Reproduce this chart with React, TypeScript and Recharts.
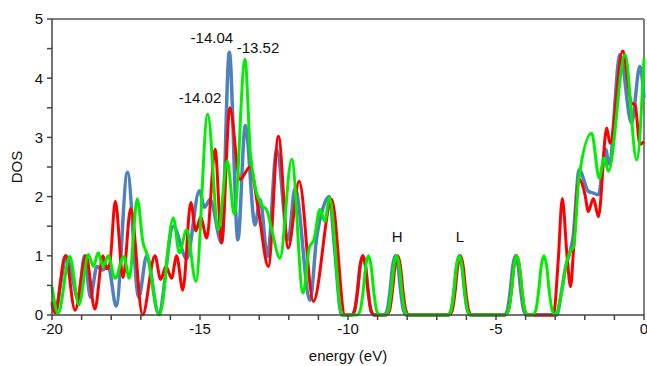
import React from "react";
import {
  LineChart,
  Line,
  XAxis,
  YAxis,
  ReferenceLine,
  ReferenceDot,
} from "recharts";

// energy (eV), DOS pairs
const blueSeries: [number, number][] = [
  [-20, 0.18], [-19.88, 0.04], [-19.7, 0.55], [-19.52, 1.0], [-19.3, 0.6],
  [-19.12, 0.26], [-18.9, 1.0], [-18.7, 0.3], [-18.48, 0.82], [-18.3, 0.76],
  [-18.1, 0.82], [-17.83, 0.15], [-17.45, 2.41], [-17.07, 0.3], [-16.8, 1.0],
  [-16.4, 0.02], [-15.9, 1.5], [-15.45, 0.95], [-15.02, 2.1], [-14.85, 1.82],
  [-14.66, 1.95], [-14.27, 1.22], [-14.01, 4.44], [-13.72, 1.27], [-13.47, 3.2],
  [-13.14, 1.52], [-12.97, 1.95], [-12.72, 0.99], [-12.41, 2.79], [-12.02, 1.27],
  [-11.79, 2.14], [-11.28, 0.25], [-11.06, 1.3], [-10.85, 1.8], [-10.63, 2.0],
  [-10.45, 1.1], [-10.22, 0], [-9.88, 0], [-9.78, 0.07], [-9.68, 0.4],
  [-9.59, 0.83], [-9.5, 1], [-9.41, 0.83], [-9.32, 0.4], [-9.22, 0.07],
  [-9.12, 0], [-8.78, 0], [-8.68, 0.07], [-8.58, 0.4], [-8.49, 0.83],
  [-8.4, 1], [-8.31, 0.83], [-8.22, 0.4], [-8.12, 0.07], [-8.02, 0],
  [-6.62, 0], [-6.52, 0.07], [-6.42, 0.4], [-6.33, 0.83], [-6.24, 1],
  [-6.15, 0.83], [-6.06, 0.4], [-5.96, 0.07], [-5.86, 0], [-4.72, 0],
  [-4.62, 0.07], [-4.52, 0.4], [-4.43, 0.83], [-4.34, 1], [-4.25, 0.83],
  [-4.16, 0.4], [-4.06, 0.07], [-3.96, 0], [-2.95, 0], [-2.8, 0.35],
  [-2.65, 0.8], [-2.5, 1.07], [-2.4, 1.3], [-2.19, 2.45], [-1.88, 2.09],
  [-1.71, 2.06], [-1.54, 2.03], [-1.3, 2.8], [-1.18, 2.55], [-0.81, 4.4],
  [-0.42, 3.24], [-0.14, 4.2], [0, 3.67],
];

const redSeries: [number, number][] = [
  [-20, 0.22], [-19.9, 0.04], [-19.55, 1.0], [-19.22, 0.08], [-18.85, 1.0],
  [-18.55, 0.1], [-18.28, 1.0], [-18.15, 0.78], [-18.05, 0.86], [-17.86, 1.92],
  [-17.6, 0.63], [-17.34, 1.8], [-16.94, 0], [-16.52, 1.0], [-16.33, 0.6],
  [-16.15, 0.82], [-15.96, 0.62], [-15.79, 1.0], [-15.58, 0.42], [-15.31, 1.9],
  [-15.14, 1.42], [-14.98, 1.65], [-14.77, 1.3], [-14.49, 2.8], [-14.27, 1.22],
  [-13.99, 3.5], [-13.65, 2.29], [-13.31, 2.5], [-13.03, 1.78], [-12.69, 0.82],
  [-12.35, 3.02], [-12.02, 1.13], [-11.65, 2.26], [-11.17, 0.23], [-10.55, 1.95],
  [-10.1, 0], [-9.88, 0], [-9.78, 0.07], [-9.68, 0.4], [-9.59, 0.83],
  [-9.5, 1], [-9.41, 0.83], [-9.32, 0.4], [-9.22, 0.07], [-9.12, 0],
  [-8.7, 0], [-8.6, 0.07], [-8.5, 0.4], [-8.41, 0.83], [-8.32, 1],
  [-8.23, 0.83], [-8.14, 0.4], [-8.04, 0.07], [-7.94, 0], [-6.58, 0],
  [-6.48, 0.07], [-6.38, 0.4], [-6.29, 0.83], [-6.2, 1], [-6.11, 0.83],
  [-6.02, 0.4], [-5.92, 0.07], [-5.82, 0], [-4.68, 0], [-4.58, 0.07],
  [-4.48, 0.4], [-4.39, 0.83], [-4.3, 1], [-4.21, 0.83], [-4.12, 0.4],
  [-4.02, 0.07], [-3.92, 0], [-3.06, 0], [-2.9, 0.9], [-2.76, 1.97],
  [-2.6, 1.0], [-2.48, 0.48], [-2.38, 1.1], [-2.2, 2.3], [-2.0, 2.05],
  [-1.88, 1.75], [-1.71, 1.97], [-1.54, 1.66], [-1.26, 3.16], [-1.15, 2.9],
  [-0.72, 4.46], [-0.42, 3.58], [-0.3, 3.55], [-0.14, 2.88], [0, 2.93],
];

const greenSeries: [number, number][] = [
  [-20, 0.48], [-19.79, 0.03], [-19.4, 0.99], [-19.09, 0.17], [-18.77, 1.02],
  [-18.6, 0.82], [-18.44, 1.05], [-18.27, 0.82], [-18.1, 1.0], [-17.87, 0.62],
  [-17.57, 0.99], [-17.39, 0.62], [-17.12, 1.96], [-16.92, 1.21], [-16.8, 1.05],
  [-16.37, 0], [-15.9, 1.64], [-15.7, 1.05], [-15.45, 1.44], [-15.14, 0.57],
  [-14.74, 3.39], [-14.38, 1.44], [-14.08, 2.6], [-13.84, 1.7], [-13.48, 4.32],
  [-13.3, 2.75], [-13.15, 2.2], [-12.9, 1.85], [-12.75, 1.78], [-12.55, 1.38],
  [-12.3, 0.96], [-11.9, 2.63], [-11.52, 0.37], [-11.3, 1.15], [-11.15, 1.27],
  [-10.95, 1.78], [-10.78, 1.58], [-10.63, 1.98], [-10.2, 0], [-9.69, 0],
  [-9.59, 0.07], [-9.49, 0.4], [-9.4, 0.83], [-9.31, 1], [-9.22, 0.83],
  [-9.13, 0.4], [-9.03, 0.07], [-8.93, 0], [-8.74, 0], [-8.64, 0.07],
  [-8.54, 0.4], [-8.45, 0.83], [-8.36, 1], [-8.27, 0.83], [-8.18, 0.4],
  [-8.08, 0.07], [-7.98, 0], [-6.62, 0], [-6.52, 0.07], [-6.42, 0.4],
  [-6.33, 0.83], [-6.24, 1], [-6.15, 0.83], [-6.06, 0.4], [-5.96, 0.07],
  [-5.86, 0], [-4.68, 0], [-4.58, 0.07], [-4.48, 0.4], [-4.39, 0.83],
  [-4.3, 1], [-4.21, 0.83], [-4.12, 0.4], [-4.02, 0.07], [-3.92, 0],
  [-3.76, 0], [-3.66, 0.07], [-3.56, 0.4], [-3.47, 0.83], [-3.38, 1],
  [-3.29, 0.83], [-3.2, 0.4], [-3.1, 0.07], [-3.0, 0], [-2.95, 0.02],
  [-2.8, 0.35], [-2.65, 0.8], [-2.5, 1.07], [-2.38, 1.15], [-2.2, 2.3],
  [-1.77, 3.07], [-1.51, 2.31], [-1.35, 2.65], [-1.2, 2.43], [-0.64, 4.4],
  [-0.25, 2.62], [0, 4.34],
];

const xTicks = [-20, -19, -18, -17, -16, -15, -14, -13, -12, -11, -10, -9, -8, -7, -6, -5, -4, -3, -2, -1, 0];
const yTicks = [0, 0.5, 1, 1.5, 2, 2.5, 3, 3.5, 4, 4.5, 5];

// peak labels: text, energy, DOS position of the label centre
const annotations: [string, number, number][] = [
  ["-14.04", -14.6, 4.68],
  ["-13.52", -13.04, 4.52],
  ["-14.02", -15.0, 3.67],
  ["H", -8.34, 1.32],
  ["L", -6.22, 1.32],
];

const toRows = (s: [number, number][]) => s.map(([e, d]) => ({ e, d }));

const FONT = "'Liberation Sans', Arial, sans-serif";

const App: React.FC = () => {
  return (
    <div style={{ position: "absolute", left: 0, top: 0, fontFamily: FONT }}>
      <LineChart
        width={647}
        height={366}
        margin={{ top: 19, right: 3, bottom: 0, left: 0 }}
      >
        <XAxis
          type="number"
          dataKey="e"
          domain={[-20, 0]}
          ticks={xTicks}
          interval={0}
          allowDecimals
          tickFormatter={(v: number) => (v % 5 === 0 ? String(v) : "")}
          height={51}
          tickSize={5}
          tickMargin={3}
          stroke="#444"
          strokeWidth={1.5}
          tick={{ fill: "#111", fontSize: 15, fontFamily: FONT }}
          label={{
            value: "energy (eV)",
            position: "insideBottom",
            offset: 5,
            fill: "#111",
            fontSize: 15,
            fontFamily: FONT,
          }}
        />
        <YAxis
          type="number"
          domain={[0, 5]}
          ticks={yTicks}
          interval={0}
          tickFormatter={(v: number) => (Number.isInteger(v) ? String(v) : "")}
          width={52}
          tickSize={5}
          tickMargin={4}
          stroke="#444"
          strokeWidth={1.5}
          tick={{ fill: "#111", fontSize: 15, fontFamily: FONT }}
          label={() => (
            <text
              x={18}
              y={167}
              transform="rotate(-90 18 167)"
              textAnchor="middle"
              dominantBaseline="middle"
              fill="#111"
              fontSize={15}
              fontFamily={FONT}
            >
              DOS
            </text>
          )}
        />
        <ReferenceLine y={5} stroke="#808080" strokeWidth={2} />
        <ReferenceLine x={0} stroke="#808080" strokeWidth={2} />
        <Line
          data={toRows(blueSeries)}
          dataKey="d"
          type="monotone"
          stroke="#4f81bd"
          strokeWidth={3.5}
          dot={false}
          isAnimationActive={false}
        />
        <Line
          data={toRows(redSeries)}
          dataKey="d"
          type="monotone"
          stroke="#ff0000"
          strokeWidth={3}
          dot={false}
          isAnimationActive={false}
        />
        <Line
          data={toRows(greenSeries)}
          dataKey="d"
          type="monotone"
          stroke="#00ee00"
          strokeWidth={3}
          dot={false}
          isAnimationActive={false}
        />
        {annotations.map(([t, e, d]) => (
          <ReferenceDot
            key={t}
            x={e}
            y={d}
            r={0}
            fill="none"
            stroke="none"
            label={{
              value: t,
              position: "center",
              fill: "#111",
              fontSize: 15,
              fontFamily: FONT,
            }}
          />
        ))}
      </LineChart>
    </div>
  );
};

export default App;
